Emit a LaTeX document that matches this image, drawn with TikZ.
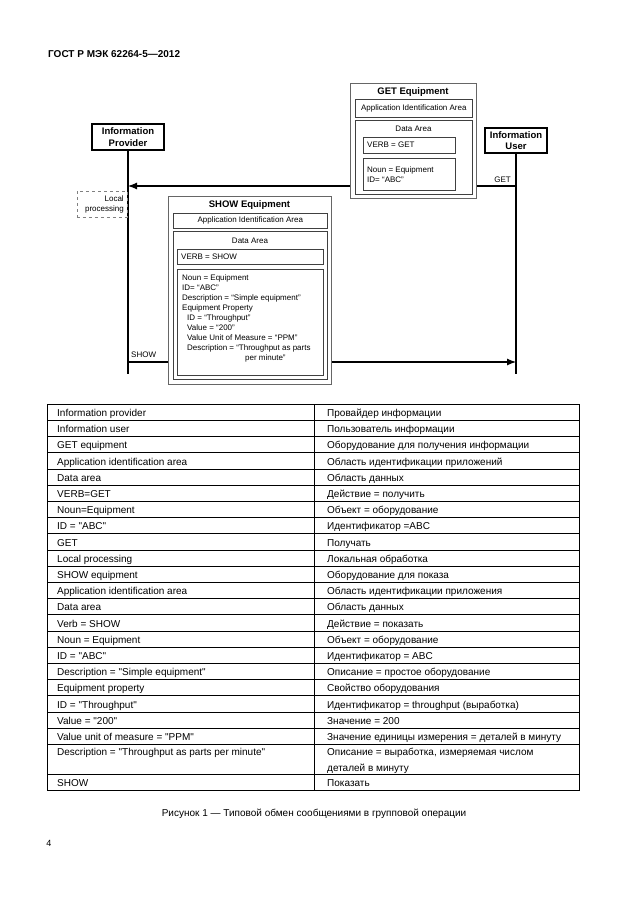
\documentclass[tikz,border=0pt]{standalone}
\usepackage{fontspec}
\setmainfont{Liberation Sans}[Ligatures=TeXOff]
\usetikzlibrary{positioning,arrows.meta}

\begin{document}
\begin{tikzpicture}[x=1pt, y=-1pt, node distance=3pt]
        \tikzstyle{actor}=[rectangle,draw=black,line width=1.4pt,fill=white,font=\fontsize{9.5}{11.5}\selectfont\bfseries,align=center,inner sep=1pt]
        \tikzstyle{message}=[rectangle,draw=black!60,line width=0.9pt,fill=white,inner sep=0pt,anchor=north west]
        \tikzstyle{area}=[rectangle,draw=black!75,line width=0.7pt,fill=white,inner sep=0pt,anchor=north west,font=\fontsize{8}{10}\selectfont]
        \tikzstyle{small}=[font=\fontsize{8}{10}\selectfont,inner sep=0pt]
        \tikzstyle{boxtitle}=[font=\fontsize{9.5}{11}\selectfont\bfseries,inner sep=0pt]
        \tikzstyle{cell}=[font=\fontsize{10}{16}\selectfont,inner sep=0pt,anchor=base west,align=left]
        \tikzstyle{lifeline}=[line width=1.2pt]
        \tikzstyle{msg}=[line width=1.1pt,-{Latex[length=9pt,width=7pt]}]
        \tikzstyle{tabline}=[line width=0.6pt]

        \fill[white] (0,0) rectangle (630,913);
        \useasboundingbox (0,0) rectangle (630,913);

        \node[anchor=west, font=\fontsize{10}{12}\selectfont\bfseries, inner sep=0pt] (gost) at (48,54) {ГОСТ Р МЭК 62264-5—2012};

        % actors and lifelines
        \node[actor, minimum width=72pt, minimum height=26pt] (provider) at (128,137) {Information\\Provider};
        \node[actor, minimum width=62pt, minimum height=25pt] (user) at (516,140.5) {Information\\User};
        \coordinate (providerend) at (provider.south |- 0,374);
        \coordinate (userend) at (user.south |- 0,374);
        \draw[lifeline] (provider.south) -- (providerend);
        \draw[lifeline] (user.south) -- (userend);

        % messages
        \coordinate (getfrom) at (user.south |- 0,186);
        \coordinate (getto) at (provider.south |- 0,186);
        \coordinate (showfrom) at (provider.south |- 0,362);
        \coordinate (showto) at (user.south |- 0,362);
        \draw[msg] (getfrom) -- (getto);
        \draw[msg] (showfrom) -- (showto);
        \node[small, anchor=base east] (getlbl) at (511,182) {GET};
        \node[small, anchor=base west] (showlbl) at (131,357) {SHOW};

        \node[rectangle, draw=black!50, dashed, line width=0.5pt, font=\fontsize{8}{10}\selectfont, text width=44pt, align=right, minimum height=26pt, inner sep=3pt, anchor=north east] (local) at (127,191) {Local\\processing};

        % GET Equipment
        \node[message, minimum width=126pt, minimum height=115pt] (getbox) at (350,83) {};
        \node[boxtitle] (gettitle) at (413,92.5) {GET Equipment};
        \node[area, minimum width=117pt, minimum height=18pt] (getapp) at (355,99) {Application Identification Area};
        \node[area, minimum width=117pt, minimum height=74pt] (getdata) at (355,120) {};
        \node[small] (getdatalbl) at (413.5,129) {Data Area};
        \node[area, minimum width=92pt, minimum height=16pt] (getverb) at (363,137) {};
        \node[small, anchor=west] (getverbtxt) at (367,145) {VERB = GET};
        \node[area, minimum width=92pt, minimum height=32pt] (getnoun) at (363,158) {};
        \node[small, anchor=north west, align=left] (getnountxt) at (367,166.5) {Noun = Equipment\\ID= “ABC”};

        % SHOW Equipment
        \node[message, minimum width=163pt, minimum height=188pt] (showbox) at (168,196) {};
        \node[boxtitle] (showtitle) at (249.5,205) {SHOW Equipment};
        \node[area, minimum width=154pt, minimum height=15pt] (showapp) at (173,213) {Application Identification Area};
        \node[area, minimum width=154pt, minimum height=148pt] (showdata) at (173,231) {};
        \node[small] (showdatalbl) at (250,241) {Data Area};
        \node[area, minimum width=146pt, minimum height=15pt] (showverb) at (177,249) {};
        \node[small, anchor=west] (showverbtxt) at (181,256.5) {VERB = SHOW};
        \node[area, minimum width=146pt, minimum height=106pt] (shownoun) at (177,269) {};
        \node[small, anchor=north west, align=left] (shownountxt) at (182,274.5) {Noun = Equipment\\
            ID= “ABC”\\
            Description = “Simple equipment”\\
            Equipment Property\\
            \hspace*{5pt}ID = “Throughput”\\
            \hspace*{5pt}Value = “200”\\
            \hspace*{5pt}Value Unit of Measure = “PPM”\\
            \hspace*{5pt}Description = “Throughput as parts\\
            \hspace*{63pt}per minute”};

        % table
        \foreach \k in {0,...,21}
            \draw[tabline] (47,404+16.2*\k) -- (579,404+16.2*\k);
        \draw[tabline] (47,774.2) -- (579,774.2);
        \draw[tabline] (47,404) rectangle (579,790.4);
        \draw[tabline] (314,404) -- (314,790.4);

        \foreach \en/\ru [count=\i] in {
            {Information provider}/{Провайдер информации},
            {Information user}/{Пользователь информации},
            {GET equipment}/{Оборудование для получения информации},
            {Application identification area}/{Область идентификации приложений},
            {Data area}/{Область данных},
            {VERB=GET}/{Действие = получить},
            {Noun=Equipment}/{Объект = оборудование},
            {ID = "ABC"}/{Идентификатор =ABC},
            {GET}/{Получать},
            {Local processing}/{Локальная обработка},
            {SHOW equipment}/{Оборудование для показа},
            {Application identification area}/{Область идентификации приложения},
            {Data area}/{Область данных},
            {Verb = SHOW}/{Действие = показать},
            {Noun = Equipment}/{Объект = оборудование},
            {ID = "ABC"}/{Идентификатор = ABC},
            {Description = "Simple equipment"}/{Описание = простое оборудование},
            {Equipment property}/{Свойство оборудования},
            {ID = "Throughput"}/{Идентификатор = throughput (выработка)},
            {Value = "200"}/{Значение = 200},
            {Value unit of measure = "PPM"}/{Значение единицы измерения = деталей в минуту}} {
            \node[cell] (en\i) at (57,400.3+16.2*\i) {\en};
            \node[cell] (ru\i) at (327,400.3+16.2*\i) {\ru};
        }
        \node[cell] (en22) at (57,755.7) {Description = "Throughput as parts per minute"};
        \node[cell, anchor=west] (ru22) at (327,761) {Описание = выработка, измеряемая числом\\деталей в минуту};
        \node[cell] (en23) at (57,786.5) {SHOW};
        \node[cell] (ru23) at (327,786.5) {Показать};

        \node[font=\fontsize{10}{12}\selectfont, inner sep=0pt] (caption) at (314,814) {Рисунок 1 — Типовой обмен сообщениями в групповой операции};
        \node[font=\fontsize{9}{11}\selectfont, inner sep=0pt] (pagenum) at (49,843) {4};
    \end{tikzpicture}
\end{document}
